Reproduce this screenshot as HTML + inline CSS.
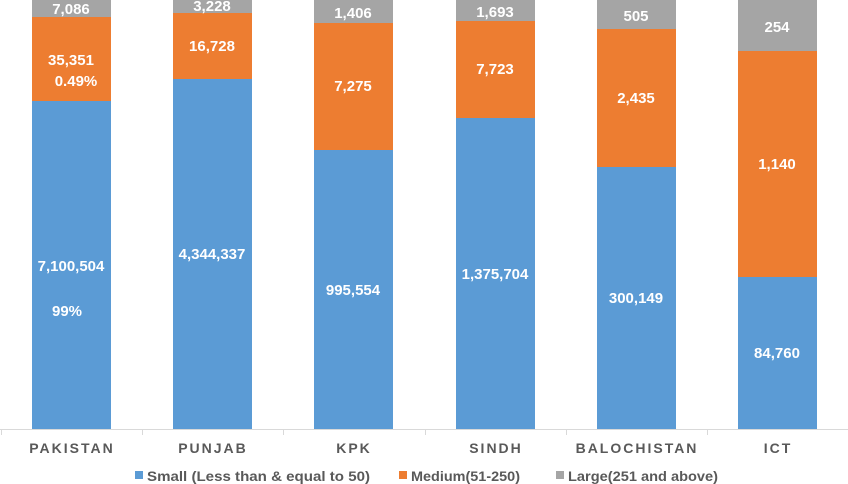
<!DOCTYPE html>
<html><head><style>
body{margin:0;background:#fff}
svg{display:block}
text{font-family:"Liberation Sans",Arial,sans-serif;font-weight:bold}
.v{fill:#fff;font-size:15px;text-anchor:middle}
.c{fill:#595959;font-size:14px;text-anchor:middle;letter-spacing:2px}
.l{fill:#595959;font-size:14px}
</style></head><body>
<svg width="848" height="484" viewBox="0 0 848 484">
<g>
<rect x="32" y="0" width="79" height="17" fill="#A5A5A5"/><rect x="32" y="17" width="79" height="84" fill="#ED7D31"/><rect x="32" y="101" width="79" height="328" fill="#5B9BD5"/>
<rect x="173" y="0" width="79" height="13" fill="#A5A5A5"/><rect x="173" y="13" width="79" height="66" fill="#ED7D31"/><rect x="173" y="79" width="79" height="350" fill="#5B9BD5"/>
<rect x="314" y="0" width="79" height="23" fill="#A5A5A5"/><rect x="314" y="23" width="79" height="127" fill="#ED7D31"/><rect x="314" y="150" width="79" height="279" fill="#5B9BD5"/>
<rect x="456" y="0" width="79" height="21" fill="#A5A5A5"/><rect x="456" y="21" width="79" height="97" fill="#ED7D31"/><rect x="456" y="118" width="79" height="311" fill="#5B9BD5"/>
<rect x="597" y="0" width="79" height="29" fill="#A5A5A5"/><rect x="597" y="29" width="79" height="138" fill="#ED7D31"/><rect x="597" y="167" width="79" height="262" fill="#5B9BD5"/>
<rect x="738" y="0" width="79" height="51" fill="#A5A5A5"/><rect x="738" y="51" width="79" height="226" fill="#ED7D31"/><rect x="738" y="277" width="79" height="152" fill="#5B9BD5"/>
</g>
<g class="v">
<text class="v" x="71" y="14">7,086</text><text class="v" x="71" y="65">35,351</text><text class="v" x="76" y="86">0.49%</text><text class="v" x="71" y="271">7,100,504</text><text class="v" x="67" y="316">99%</text>
<text class="v" x="212" y="11">3,228</text><text class="v" x="212" y="51">16,728</text><text class="v" x="212" y="259">4,344,337</text>
<text class="v" x="353" y="18">1,406</text><text class="v" x="353" y="91">7,275</text><text class="v" x="353" y="295">995,554</text>
<text class="v" x="495" y="17">1,693</text><text class="v" x="495" y="74">7,723</text><text class="v" x="495" y="279">1,375,704</text>
<text class="v" x="636" y="21">505</text><text class="v" x="636" y="103">2,435</text><text class="v" x="636" y="303">300,149</text>
<text class="v" x="777" y="32">254</text><text class="v" x="777" y="169">1,140</text><text class="v" x="777" y="358">84,760</text>
</g>
<line x1="0" y1="429.5" x2="848" y2="429.5" stroke="#D9D9D9" stroke-width="1"/>
<g stroke="#D9D9D9"><line x1="1.5" y1="429" x2="1.5" y2="435"/><line x1="142.5" y1="429" x2="142.5" y2="435"/><line x1="283.5" y1="429" x2="283.5" y2="435"/><line x1="425.5" y1="429" x2="425.5" y2="435"/><line x1="566.5" y1="429" x2="566.5" y2="435"/><line x1="707.5" y1="429" x2="707.5" y2="435"/></g>
<text class="c" x="72" y="453">PAKISTAN</text><text class="c" x="213" y="453">PUNJAB</text><text class="c" x="354" y="453">KPK</text><text class="c" x="496" y="453">SINDH</text><text class="c" x="637" y="453">BALOCHISTAN</text><text class="c" x="778" y="453">ICT</text>
<rect x="135" y="471" width="8" height="8" fill="#5B9BD5"/><text class="l" x="147" y="481" textLength="223" lengthAdjust="spacingAndGlyphs">Small (Less than &amp; equal to 50)</text>
<rect x="399" y="471" width="8" height="8" fill="#ED7D31"/><text class="l" x="411" y="481" textLength="109" lengthAdjust="spacingAndGlyphs">Medium(51-250)</text>
<rect x="556" y="471" width="8" height="8" fill="#A5A5A5"/><text class="l" x="568" y="481" textLength="150" lengthAdjust="spacingAndGlyphs">Large(251 and above)</text>
</svg>
</body></html>
